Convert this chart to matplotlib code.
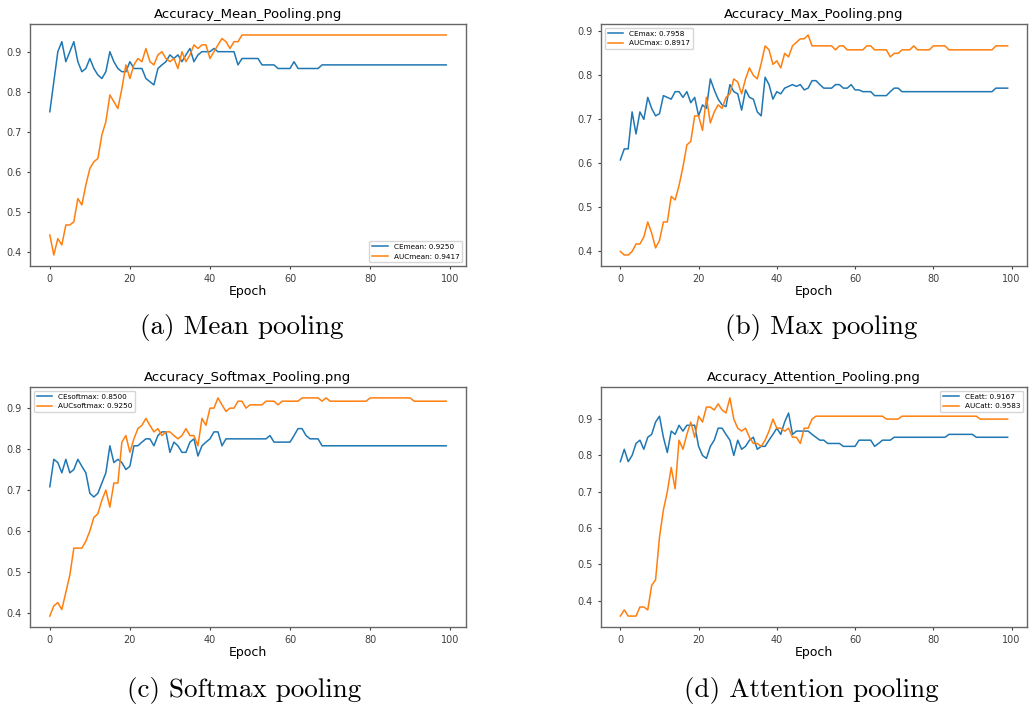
import numpy as np
import matplotlib
matplotlib.use("Agg")
import matplotlib.pyplot as plt

# Accuracy per epoch
epochs = np.arange(100)

ce_mean = ([0.750, 0.825, 0.900, 0.925, 0.875, 0.900, 0.925, 0.875, 0.850, 0.858,
            0.883, 0.858, 0.842, 0.833, 0.850, 0.900, 0.875, 0.858, 0.850, 0.850,
            0.875, 0.858, 0.858, 0.858, 0.833, 0.825, 0.817, 0.858, 0.867, 0.875,
            0.892, 0.883, 0.892, 0.875, 0.892, 0.908, 0.875, 0.892, 0.900, 0.900,
            0.900, 0.908, 0.900, 0.900, 0.900, 0.900, 0.900, 0.867, 0.883, 0.883,
            0.883, 0.883, 0.883, 0.867, 0.867, 0.867, 0.867, 0.858, 0.858, 0.858,
            0.858, 0.875, 0.858, 0.858, 0.858, 0.858, 0.858, 0.858]
           + [0.867] * 32)
auc_mean = ([0.442, 0.392, 0.433, 0.417, 0.467, 0.467, 0.475, 0.533, 0.517, 0.567,
             0.608, 0.625, 0.633, 0.692, 0.725, 0.792, 0.775, 0.758, 0.808, 0.867,
             0.833, 0.867, 0.883, 0.875, 0.908, 0.875, 0.867, 0.892, 0.900, 0.883,
             0.875, 0.883, 0.858, 0.900, 0.875, 0.892, 0.917, 0.908, 0.917, 0.917,
             0.883, 0.900, 0.917, 0.933, 0.925, 0.908, 0.925, 0.925]
            + [0.9417] * 52)

ce_max = ([0.608, 0.633, 0.633, 0.717, 0.667, 0.717, 0.700, 0.750, 0.725, 0.708,
           0.713, 0.754, 0.750, 0.746, 0.763, 0.763, 0.750, 0.763, 0.738, 0.750,
           0.708, 0.733, 0.725, 0.792, 0.767, 0.746, 0.733, 0.729, 0.779, 0.763,
           0.758, 0.721, 0.767, 0.750, 0.746, 0.717, 0.708, 0.7958, 0.779, 0.746,
           0.763, 0.758, 0.771, 0.775, 0.779, 0.775, 0.779, 0.767, 0.771, 0.788,
           0.788, 0.779, 0.771, 0.771, 0.771, 0.779, 0.779, 0.771, 0.771, 0.779,
           0.767, 0.767, 0.763, 0.763, 0.763, 0.754, 0.754, 0.754, 0.754, 0.763,
           0.771, 0.771]
          + [0.763] * 24 + [0.771] * 4)
auc_max = ([0.400, 0.392, 0.392, 0.400, 0.417, 0.417, 0.433, 0.467, 0.442, 0.408,
            0.425, 0.467, 0.467, 0.525, 0.517, 0.550, 0.592, 0.642, 0.650, 0.708,
            0.708, 0.675, 0.750, 0.692, 0.717, 0.733, 0.725, 0.750, 0.758, 0.792,
            0.785, 0.758, 0.792, 0.817, 0.800, 0.792, 0.827, 0.867, 0.858, 0.825,
            0.833, 0.817, 0.850, 0.842, 0.867, 0.875, 0.883, 0.883, 0.8917, 0.867,
            0.867, 0.867, 0.867, 0.867, 0.867, 0.858, 0.867, 0.867, 0.858, 0.858,
            0.858, 0.858, 0.858, 0.867, 0.867, 0.858, 0.858, 0.858, 0.858, 0.842,
            0.850, 0.850, 0.858, 0.858, 0.858, 0.867, 0.858, 0.858, 0.858, 0.858,
            0.867, 0.867, 0.867, 0.867]
           + [0.858] * 12 + [0.867] * 4)

ce_softmax = ([0.708, 0.775, 0.767, 0.742, 0.775, 0.742, 0.750, 0.775, 0.758, 0.742,
               0.692, 0.683, 0.692, 0.717, 0.742, 0.808, 0.767, 0.775, 0.767, 0.750,
               0.758, 0.808, 0.808, 0.817, 0.825, 0.825, 0.808, 0.833, 0.842, 0.842,
               0.792, 0.817, 0.808, 0.792, 0.792, 0.817, 0.825, 0.783, 0.808, 0.817,
               0.825, 0.842, 0.842, 0.808, 0.825, 0.825, 0.825, 0.825, 0.825, 0.825,
               0.825, 0.825, 0.825, 0.825, 0.825, 0.833, 0.817, 0.817, 0.817, 0.817,
               0.817, 0.833, 0.850, 0.850, 0.833, 0.825, 0.825, 0.825]
              + [0.808] * 32)
auc_softmax = ([0.392, 0.417, 0.425, 0.408, 0.450, 0.492, 0.558, 0.558, 0.558, 0.575,
                0.600, 0.633, 0.642, 0.675, 0.700, 0.658, 0.717, 0.717, 0.817, 0.833,
                0.792, 0.825, 0.850, 0.858, 0.875, 0.858, 0.842, 0.850, 0.833, 0.842,
                0.842, 0.833, 0.825, 0.833, 0.850, 0.833, 0.833, 0.808, 0.875, 0.858,
                0.900, 0.900, 0.925, 0.908, 0.892, 0.900, 0.900, 0.917, 0.917, 0.900,
                0.908, 0.908, 0.908, 0.908, 0.917, 0.917, 0.917, 0.908, 0.917, 0.917,
                0.917, 0.917, 0.917, 0.925, 0.925, 0.925, 0.925, 0.925, 0.917, 0.925]
               + [0.917] * 10 + [0.925] * 11 + [0.917] * 9)

ce_att = ([0.783, 0.817, 0.783, 0.800, 0.833, 0.842, 0.817, 0.850, 0.858, 0.892,
           0.908, 0.850, 0.808, 0.867, 0.858, 0.883, 0.867, 0.883, 0.883, 0.883,
           0.825, 0.800, 0.792, 0.825, 0.842, 0.875, 0.875, 0.858, 0.842, 0.800,
           0.842, 0.817, 0.825, 0.842, 0.850, 0.817, 0.825, 0.825, 0.842, 0.858,
           0.875, 0.858, 0.892, 0.9167, 0.858, 0.867, 0.867, 0.867, 0.867, 0.858,
           0.850, 0.842, 0.842, 0.833, 0.833, 0.833, 0.833, 0.825, 0.825, 0.825,
           0.825, 0.842, 0.842, 0.842, 0.842, 0.825, 0.833, 0.842, 0.842, 0.842]
          + [0.850] * 14 + [0.858] * 7 + [0.850] * 9)
auc_att = ([0.358, 0.375, 0.358, 0.358, 0.358, 0.383, 0.383, 0.375, 0.442, 0.458,
            0.575, 0.650, 0.700, 0.767, 0.708, 0.842, 0.817, 0.858, 0.892, 0.850,
            0.908, 0.892, 0.933, 0.933, 0.925, 0.942, 0.925, 0.917, 0.9583, 0.900,
            0.875, 0.867, 0.875, 0.850, 0.833, 0.833, 0.825, 0.842, 0.867, 0.900,
            0.875, 0.875, 0.867, 0.875, 0.850, 0.850, 0.833, 0.875, 0.875, 0.900]
           + [0.908] * 18 + [0.900] * 4 + [0.908] * 20 + [0.900] * 8)

titles = ["Accuracy_Mean_Pooling.png", "Accuracy_Max_Pooling.png",
          "Accuracy_Softmax_Pooling.png", "Accuracy_Attention_Pooling.png"]
labels = [("CEmean: 0.9250", "AUCmean: 0.9417"),
          ("CEmax: 0.7958", "AUCmax: 0.8917"),
          ("CEsoftmax: 0.8500", "AUCsoftmax: 0.9250"),
          ("CEatt: 0.9167", "AUCatt: 0.9583")]
captions = ["(a) Mean pooling", "(b) Max pooling",
            "(c) Softmax pooling", "(d) Attention pooling"]
series = [(ce_mean, auc_mean), (ce_max, auc_max),
          (ce_softmax, auc_softmax), (ce_att, auc_att)]
legend_locs = ["lower right", "upper left", "upper left", "upper right"]

W, H = 1035, 704
fig = plt.figure(figsize=(W / 100, H / 100), dpi=100)

# axes boxes in pixels: left, top, right, bottom
boxes = [(30, 24, 466, 266), (601, 24, 1027, 266),
         (30, 387, 466, 627), (601, 387, 1027, 627)]
caption_pos = [(242, 328), (821, 328), (244, 691), (811, 691)]

for i, (l, t, r, b) in enumerate(boxes):
    ax = fig.add_axes([l / W, 1 - b / H, (r - l) / W, (b - t) / H])
    ce, auc = series[i]
    ax.plot(epochs, ce, color="#1f77b4", lw=1.1, label=labels[i][0])
    ax.plot(epochs, auc, color="#ff7f0e", lw=1.1, label=labels[i][1])
    ax.set_xticks([0, 20, 40, 60, 80, 100])
    ax.set_yticks([0.4, 0.5, 0.6, 0.7, 0.8, 0.9])
    ax.tick_params(labelsize=7, length=2.5, width=0.8, colors="0.25")
    for s in ax.spines.values():
        s.set_color("0.4")
        s.set_linewidth(1.0)
    ax.set_title(titles[i], fontsize=9.5, pad=4.5)
    ax.set_xlabel("Epoch", fontsize=9, labelpad=0.5)
    ax.legend(loc=legend_locs[i], fontsize=5.2, handlelength=2.2)
    cx, cy = caption_pos[i]
    fig.text(cx / W, 1 - cy / H, captions[i], fontfamily="cmr10",
             fontsize=19.5, ha="center", va="center")

fig.savefig("out.png", dpi=100)
